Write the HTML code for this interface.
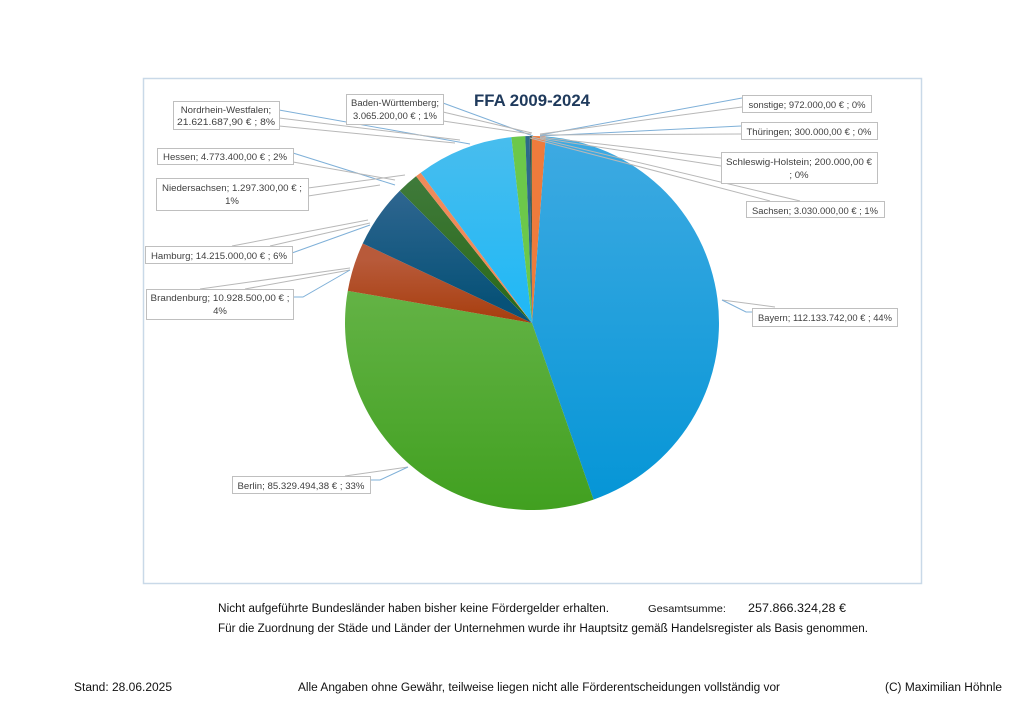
<!DOCTYPE html>
<html><head><meta charset="utf-8"><style>
html,body{margin:0;padding:0;background:#fff;}
svg{display:block;}
text{font-family:"Liberation Sans",sans-serif;}
</style></head><body>
<svg id="s" width="1024" height="724" viewBox="0 0 1024 724" xmlns="http://www.w3.org/2000/svg">
<defs>
<linearGradient id="gBay" gradientUnits="userSpaceOnUse" x1="0" y1="136" x2="0" y2="510"><stop offset="0" stop-color="#3eaae2"/><stop offset="1" stop-color="#0495d6"/></linearGradient>
<linearGradient id="gBer" gradientUnits="userSpaceOnUse" x1="0" y1="136" x2="0" y2="510"><stop offset="0" stop-color="#7cc060"/><stop offset="1" stop-color="#41a020"/></linearGradient>
<linearGradient id="gBra" gradientUnits="userSpaceOnUse" x1="0" y1="260" x2="0" y2="330"><stop offset="0" stop-color="#b85a3a"/><stop offset="1" stop-color="#a53a08"/></linearGradient>
<linearGradient id="gHam" gradientUnits="userSpaceOnUse" x1="0" y1="190" x2="0" y2="300"><stop offset="0" stop-color="#2f6690"/><stop offset="1" stop-color="#085278"/></linearGradient>
<linearGradient id="gHes" gradientUnits="userSpaceOnUse" x1="0" y1="180" x2="0" y2="320"><stop offset="0" stop-color="#3f7a3a"/><stop offset="1" stop-color="#2a6818"/></linearGradient>
<linearGradient id="gNrw" gradientUnits="userSpaceOnUse" x1="0" y1="136" x2="0" y2="320"><stop offset="0" stop-color="#48bdee"/><stop offset="1" stop-color="#1fb8f6"/></linearGradient>
</defs>
<rect x="143.5" y="78.5" width="778" height="505" fill="#fff" stroke="#c9d9e8" stroke-width="1.5"/>
<text x="532" y="106" font-size="16.5" font-weight="bold" fill="#1f3a5c" text-anchor="middle" textLength="116" lengthAdjust="spacingAndGlyphs">FFA 2009-2024</text>
<g id="pie"></g>
<g stroke-width="1" fill="none">
<!-- leader lines -->
<polyline stroke="#7fb0d8" points="279,110 470,144"/>
<polyline stroke="#b8b8b8" points="279,118 460,140"/>
<polyline stroke="#b8b8b8" points="279,126 455,143"/>
<polyline stroke="#7fb0d8" points="443,103 533,136"/>
<polyline stroke="#b8b8b8" points="443,112 532,133"/>
<polyline stroke="#b8b8b8" points="443,121 531,134"/>
<polyline stroke="#7fb0d8" points="293,153 395,185"/>
<polyline stroke="#b8b8b8" points="293,162 395,180"/>
<polyline stroke="#b8b8b8" points="308,188 405,175"/>
<polyline stroke="#b8b8b8" points="308,196 380,185"/>
<polyline stroke="#b8b8b8" points="232,246 368,220"/>
<polyline stroke="#b8b8b8" points="270,246 370,223"/>
<polyline stroke="#7fb0d8" points="292,253 370,225"/>
<polyline stroke="#b8b8b8" points="200,289 350,268"/>
<polyline stroke="#b8b8b8" points="245,289 350,270"/>
<polyline stroke="#7fb0d8" points="293,297 303,297 350,270"/>
<polyline stroke="#b8b8b8" points="345,476 408,467"/>
<polyline stroke="#7fb0d8" points="370,480 380,480 408,467"/>
<polyline stroke="#7fb0d8" points="742,98 540,135"/>
<polyline stroke="#b8b8b8" points="742,107 540,134"/>
<polyline stroke="#7fb0d8" points="741,126 540,136"/>
<polyline stroke="#b8b8b8" points="741,134 540,135"/>
<polyline stroke="#b8b8b8" points="721,158 540,137"/>
<polyline stroke="#b8b8b8" points="721,166 540,138"/>
<polyline stroke="#b8b8b8" points="770,201 530,138"/>
<polyline stroke="#b8b8b8" points="800,201 532,137"/>
<polyline stroke="#b8b8b8" points="775,307 722,300"/>
<polyline stroke="#7fb0d8" points="752,312 746,312 722,300"/>
</g>
<g font-size="9.6" fill="#404040" text-anchor="middle">
<rect x="173.5" y="101.5" width="106" height="28" fill="#fff" stroke="#bfbfbf"/>
<text x="226" y="113">Nordrhein-Westfalen;</text><text x="226" y="125" textLength="98" lengthAdjust="spacingAndGlyphs">21.621.687,90 € ; 8%</text>
<rect x="346.5" y="94.5" width="97" height="30" fill="#fff" stroke="#bfbfbf"/>
<text x="395" y="106" textLength="88" lengthAdjust="spacingAndGlyphs">Baden-Württemberg;</text><text x="395" y="119" textLength="84" lengthAdjust="spacingAndGlyphs">3.065.200,00 € ; 1%</text>
<rect x="157.5" y="148.5" width="136" height="16" fill="#fff" stroke="#bfbfbf"/>
<text x="225" y="160" textLength="124" lengthAdjust="spacingAndGlyphs">Hessen;  4.773.400,00 € ; 2%</text>
<rect x="156.5" y="178.5" width="152" height="32" fill="#fff" stroke="#bfbfbf"/>
<text x="232" y="191" textLength="140" lengthAdjust="spacingAndGlyphs">Niedersachsen;  1.297.300,00 € ;</text><text x="232" y="204">1%</text>
<rect x="145.5" y="246.5" width="147" height="17" fill="#fff" stroke="#bfbfbf"/>
<text x="219" y="259" textLength="136" lengthAdjust="spacingAndGlyphs">Hamburg;  14.215.000,00 € ; 6%</text>
<rect x="146.5" y="289.5" width="147" height="30" fill="#fff" stroke="#bfbfbf"/>
<text x="220" y="301" textLength="139" lengthAdjust="spacingAndGlyphs">Brandenburg;  10.928.500,00 € ;</text><text x="220" y="314">4%</text>
<rect x="232.5" y="476.5" width="138" height="17" fill="#fff" stroke="#bfbfbf"/>
<text x="301" y="489" textLength="127" lengthAdjust="spacingAndGlyphs">Berlin;  85.329.494,38 € ; 33%</text>
<rect x="742.5" y="95.5" width="129" height="17" fill="#fff" stroke="#bfbfbf"/>
<text x="807" y="108" textLength="117" lengthAdjust="spacingAndGlyphs">sonstige;  972.000,00 € ; 0%</text>
<rect x="741.5" y="122.5" width="136" height="17" fill="#fff" stroke="#bfbfbf"/>
<text x="809" y="135" textLength="125" lengthAdjust="spacingAndGlyphs">Thüringen;  300.000,00 € ; 0%</text>
<rect x="721.5" y="152.5" width="156" height="31" fill="#fff" stroke="#bfbfbf"/>
<text x="799" y="165" textLength="146" lengthAdjust="spacingAndGlyphs">Schleswig-Holstein;  200.000,00 €</text><text x="799" y="178">; 0%</text>
<rect x="746.5" y="201.5" width="138" height="16" fill="#fff" stroke="#bfbfbf"/>
<text x="815" y="214" textLength="126" lengthAdjust="spacingAndGlyphs">Sachsen;  3.030.000,00 € ; 1%</text>
<rect x="752.5" y="308.5" width="145" height="18" fill="#fff" stroke="#bfbfbf"/>
<text x="825" y="321" textLength="134" lengthAdjust="spacingAndGlyphs">Bayern;  112.133.742,00 € ; 44%</text>
</g>
<g font-size="11.5" fill="#111">
<text x="218" y="612" textLength="391" lengthAdjust="spacingAndGlyphs">Nicht aufgeführte Bundesländer haben bisher keine Fördergelder erhalten.</text>
<text x="648" y="612" font-size="10.5" textLength="78" lengthAdjust="spacingAndGlyphs">Gesamtsumme:</text>
<text x="748" y="612" textLength="98" lengthAdjust="spacingAndGlyphs">257.866.324,28 €</text>
<text x="218" y="632" textLength="650" lengthAdjust="spacingAndGlyphs">Für die Zuordnung der Städe und Länder der Unternehmen wurde ihr Hauptsitz gemäß Handelsregister als Basis genommen.</text>
<text x="74" y="691" textLength="98" lengthAdjust="spacingAndGlyphs">Stand: 28.06.2025</text>
<text x="298" y="691" textLength="482" lengthAdjust="spacingAndGlyphs">Alle Angaben ohne Gewähr, teilweise liegen nicht alle Förderentscheidungen vollständig vor</text>
<text x="885" y="691" textLength="117" lengthAdjust="spacingAndGlyphs">(C) Maximilian Höhnle</text>
</g>
</svg>
<script>
(function(){
var cx=532,cy=323,r=187;
var data=[[1.175,"#ee7b3c"],[43.485,"url(#gBay)"],[33.091,"url(#gBer)"],[4.238,"url(#gBra)"],[5.513,"url(#gHam)"],[1.851,"url(#gHes)"],[0.503,"#f08a5a"],[8.385,"url(#gNrw)"],[1.189,"#6cc84a"],[0.377,"#2d6a8a"],[0.116,"#3a4a5a"],[0.077,"#4a6a3a"]];
var a=0,g=document.getElementById("pie"),s="";
function pt(p){var t=p/100*2*Math.PI;return [cx+r*Math.sin(t),cy-r*Math.cos(t)];}
data.forEach(function(d){var p0=pt(a),p1=pt(a+d[0]);var lg=d[0]>50?1:0;
s+='<path d="M'+cx+','+cy+' L'+p0[0].toFixed(2)+','+p0[1].toFixed(2)+' A'+r+','+r+' 0 '+lg+' 1 '+p1[0].toFixed(2)+','+p1[1].toFixed(2)+' Z" fill="'+d[1]+'"/>';a+=d[0];});
g.innerHTML=s;
})();
</script>
</body></html>
